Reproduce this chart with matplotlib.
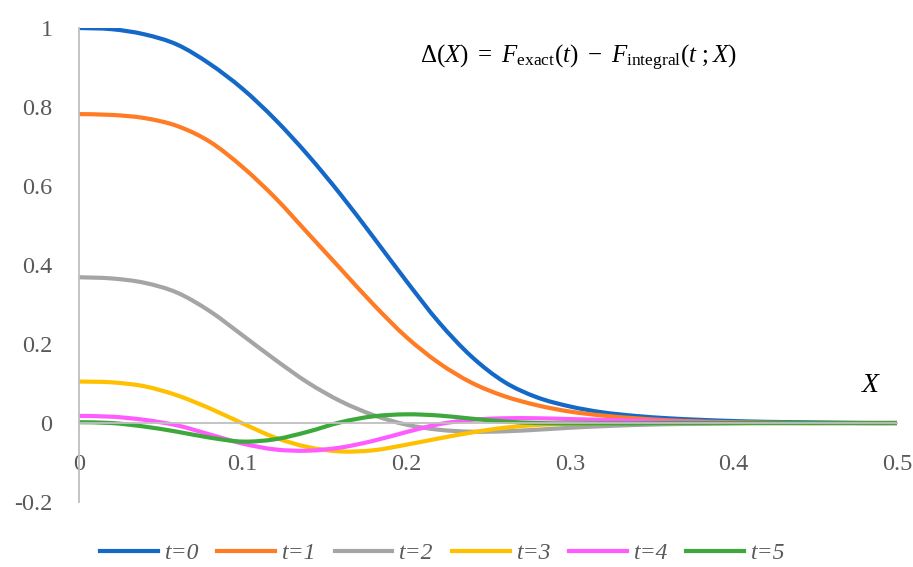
import numpy as np
import matplotlib
matplotlib.use('Agg')
import matplotlib.pyplot as plt
from matplotlib.path import Path
from matplotlib.patches import PathPatch
from matplotlib.lines import Line2D

plt.rcParams['font.family'] = ['Liberation Serif', 'DejaVu Serif']
plt.rcParams['mathtext.fontset'] = 'custom'
plt.rcParams['mathtext.rm'] = 'Liberation Serif'
plt.rcParams['mathtext.it'] = 'Liberation Serif:italic'

# values, X step 0.02
x_vals = [0.00, 0.02, 0.04, 0.06, 0.08, 0.10, 0.12, 0.14, 0.16, 0.18, 0.20, 0.22, 0.24,
          0.26, 0.28, 0.30, 0.32, 0.34, 0.36, 0.38, 0.40, 0.42, 0.44, 0.46, 0.48, 0.50]

t0 = [1.000, 0.997, 0.984, 0.958, 0.909, 0.846, 0.768, 0.678, 0.578, 0.470, 0.360, 0.255, 0.168,
      0.104, 0.065, 0.042, 0.027, 0.018, 0.012, 0.008, 0.005, 0.003, 0.002, 0.001, 0.0, 0.0]
t1 = [0.782, 0.780, 0.772, 0.752, 0.712, 0.648, 0.570, 0.480, 0.390, 0.300, 0.218, 0.152, 0.102,
      0.068, 0.045, 0.029, 0.019, 0.012, 0.007, 0.004, 0.002, 0.001, 0.0, 0.0, 0.0, 0.0]
t2 = [0.369, 0.366, 0.355, 0.330, 0.283, 0.222, 0.160, 0.102, 0.055, 0.020, -0.004, -0.017, -0.022,
      -0.021, -0.017, -0.012, -0.008, -0.005, -0.003, -0.002, -0.001, 0.0, 0.0, 0.0, 0.0, 0.0]
t3 = [0.105, 0.103, 0.093, 0.070, 0.037, -0.001, -0.037, -0.061, -0.072, -0.069, -0.055, -0.039, -0.024,
      -0.012, -0.005, -0.002, -0.001, 0.0, 0.0, 0.0, 0.0, 0.0, 0.0, 0.0, 0.0, 0.0]
t4 = [0.018, 0.016, 0.008, -0.006, -0.029, -0.052, -0.067, -0.070, -0.062, -0.045, -0.023, -0.003, 0.008,
      0.012, 0.012, 0.010, 0.008, 0.006, 0.004, 0.002, 0.001, 0.0, 0.0, 0.0, 0.0, 0.0]
t5 = [0.002, 0.000, -0.009, -0.022, -0.037, -0.047, -0.041, -0.022, 0.002, 0.017, 0.022, 0.019, 0.011,
      0.004, 0.000, -0.001, -0.001, -0.001, 0.0, 0.0, 0.0, 0.0, 0.0, 0.0, 0.0, 0.0]

series = [t0, t1, t2, t3, t4, t5]
labels = ['t=0', 't=1', 't=2', 't=3', 't=4', 't=5']
colors = ['#1469C8', '#FF7B24', '#A5A5A5', '#FFC000', '#FF5CFF', '#3DA93D']

x_ticks = [0, 0.1, 0.2, 0.3, 0.4, 0.5]
x_ticklabels = ['0', '0.1', '0.2', '0.3', '0.4', '0.5']
y_ticks = [-0.2, 0, 0.2, 0.4, 0.6, 0.8, 1.0]
y_ticklabels = ['-0.2', '0', '0.2', '0.4', '0.6', '0.8', '1']


def smooth_path(xs, ys):
    # Excel-style smoothed line: Catmull-Rom segments as cubic Bezier
    p = np.column_stack([xs, ys])
    n = len(p)
    verts = [p[0]]
    codes = [Path.MOVETO]
    for i in range(n - 1):
        p0 = p[i - 1] if i > 0 else p[i]
        p1, p2 = p[i], p[i + 1]
        p3 = p[i + 2] if i + 2 < n else p[i + 1]
        verts += [p1 + (p2 - p0) / 6, p2 - (p3 - p1) / 6, p2]
        codes += [Path.CURVE4] * 3
    return Path(verts, codes)


fig = plt.figure(figsize=(9.13, 5.67), dpi=100)
ax = fig.add_axes([0.0865, 0.1146, 0.896, 0.836])

for ys, c in zip(series, colors):
    ax.add_patch(PathPatch(smooth_path(x_vals, ys), facecolor='none', edgecolor=c,
                           lw=3, capstyle='round', joinstyle='round'))

ax.set_xlim(0, 0.5)
ax.set_ylim(-0.2, 1.0)

for s in ['top', 'right']:
    ax.spines[s].set_visible(False)
ax.spines['bottom'].set_position(('data', 0))
ax.spines['left'].set_color('#BFBFBF')
ax.spines['bottom'].set_color('#BFBFBF')
ax.spines['left'].set_linewidth(1.3)
ax.spines['bottom'].set_linewidth(1.3)

ax.set_xticks(x_ticks)
ax.set_xticklabels(x_ticklabels)
ax.set_yticks(y_ticks)
ax.set_yticklabels(y_ticklabels)
ax.tick_params(axis='x', length=0, pad=22, labelsize=17.5, labelcolor='#595959')
ax.tick_params(axis='y', length=0, pad=19, labelsize=17.5, labelcolor='#595959')

fig.text(578 / 913, 1 - 58 / 567,
         r'$\Delta(X)\ =\ F_{\mathrm{exact}}(t)\ -\ F_{\mathrm{integral}}(t\ ;X)$',
         ha='center', va='center', fontsize=18, color='black')
fig.text(870 / 913, 1 - 386 / 567, 'X', ha='center', va='center',
         fontsize=20, fontstyle='italic', color='black')

handles = [Line2D([], [], color=c, lw=3) for c in colors]
leg = fig.legend(handles, labels, loc='center', bbox_to_anchor=(0.485, 0.024),
                 ncol=6, frameon=False, handlelength=2.45, handletextpad=0.3,
                 columnspacing=0.75, borderpad=0.2,
                 prop={'family': 'Liberation Serif', 'style': 'italic', 'size': 17})
for t in leg.get_texts():
    t.set_color('#595959')

fig.savefig('out.png', dpi=100)
